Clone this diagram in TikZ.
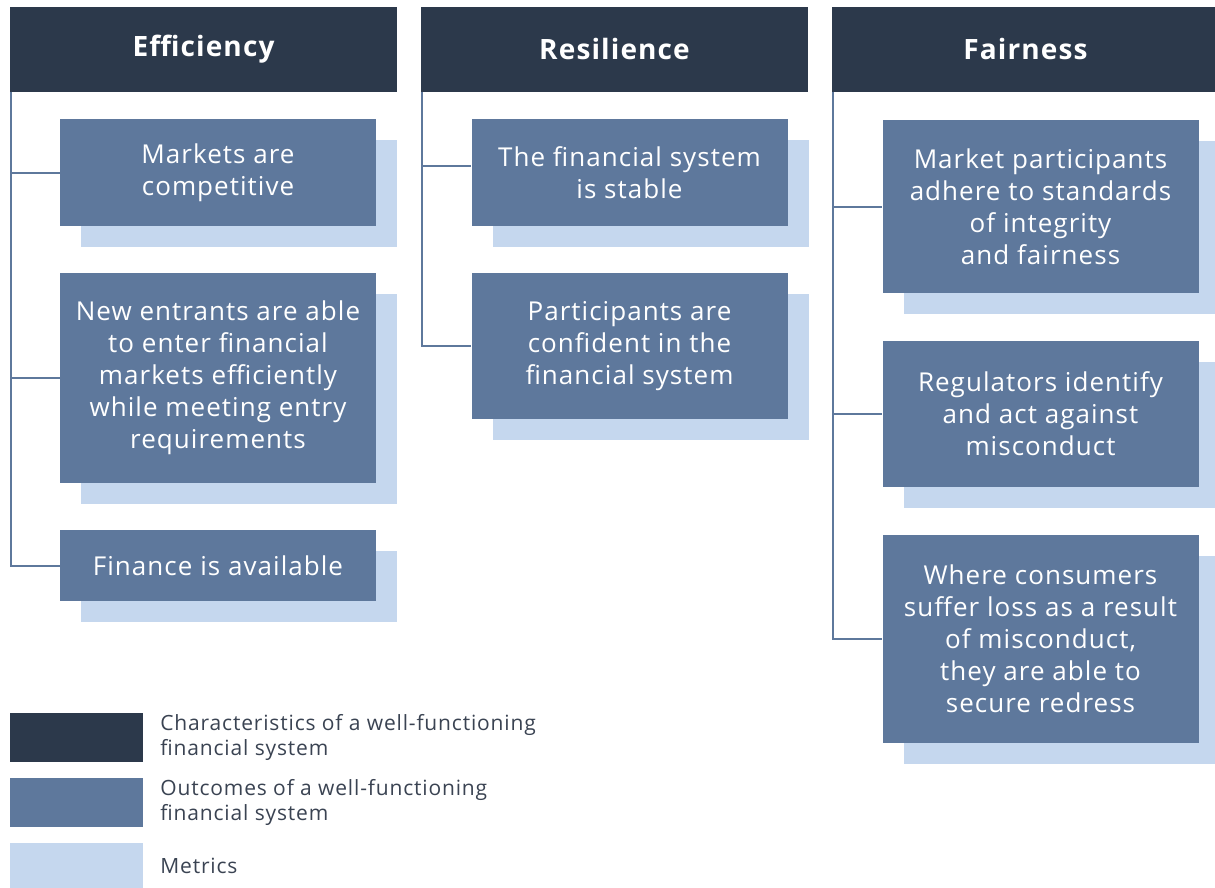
\documentclass[tikz,border=0pt]{standalone}
\usepackage{fontspec}
\setmainfont[LetterSpace=4]{Open Sans}
\definecolor{navy}{HTML}{2C394B}
\definecolor{steel}{HTML}{5E789C}
\definecolor{mist}{HTML}{C5D7EE}
\definecolor{ink}{HTML}{3A4352}

\begin{document}
\begin{tikzpicture}[x=0.5pt, y=-0.5pt,
    head/.style={fill=navy, text=white, font=\bfseries\fontsize{14}{17}\selectfont,
      minimum width=193.5pt, minimum height=42.5pt, inner sep=0pt},
    outcome/.style={fill=steel, text=white, font=\fontsize{13}{16}\selectfont,
      align=center, minimum width=158pt, inner sep=0pt},
    metric/.style={fill=mist, minimum width=158pt, inner sep=0pt},
    link/.style={steel, line width=1pt},
    key/.style={minimum width=66.5pt, minimum height=24.5pt, inner sep=0pt},
    keytext/.style={text=ink, font=\fontsize{10.5}{12.5}\selectfont, align=left,
      anchor=west, inner sep=0pt}]
                \useasboundingbox (0, 0) rectangle (1215, 888);

                % characteristics
                \node [head] (eff) at (203.5, 49.5) {Efficiency};
                \node [head] (res) at (614.5, 49.5) {Resilience};
                \node [head] (fair) at (1025.5, 49.5) {Fairness};

                % metrics behind the outcomes
                \node [metric, minimum height=53.5pt] (me1) at (239, 193.5) {};
                \node [metric, minimum height=105pt] (me2) at (239, 399) {};
                \node [metric, minimum height=35.5pt] (me3) at (239, 586.5) {};
                \node [metric, minimum height=53.5pt] (mr1) at (650.5, 193.5) {};
                \node [metric, minimum height=73pt] (mr2) at (650.5, 367) {};
                \node [metric, minimum height=86.5pt] (mf1) at (1061.5, 227.5) {};
                \node [metric, minimum height=73pt] (mf2) at (1061.5, 435) {};
                \node [metric, minimum height=104pt] (mf3) at (1061.5, 660) {};

                % outcomes
                \node [outcome, minimum height=53.5pt] (e1) at (218, 172.5)
                    {Markets are\\competitive};
                \node [outcome, minimum height=105pt] (e2) at (218, 378)
                    {New entrants are able\\to enter financial\\markets efficiently\\while meeting entry\\requirements};
                \node [outcome, minimum height=35.5pt] (e3) at (218, 565.5)
                    {Finance is available};
                \node [outcome, minimum height=53.5pt] (r1) at (629.5, 172.5)
                    {The financial system\\is stable};
                \node [outcome, minimum height=73pt] (r2) at (629.5, 346)
                    {Participants are\\confident in the\\financial system};
                \node [outcome, minimum height=86.5pt] (f1) at (1040.5, 206.5)
                    {Market participants\\adhere to standards\\of integrity\\and fairness};
                \node [outcome, minimum height=73pt] (f2) at (1040.5, 414)
                    {Regulators identify\\and act against\\misconduct};
                \node [outcome, minimum height=104pt] (f3) at (1040.5, 639)
                    {Where consumers\\suffer loss as a result\\of misconduct,\\they are able to\\secure redress};

                % links
                \draw [link] ([xshift=0.5pt]eff.south west) |- (e1.west);
                \draw [link] ([xshift=0.5pt]eff.south west) |- (e2.west);
                \draw [link] ([xshift=0.5pt]eff.south west) |- (e3.west);
                \draw [link] ([xshift=0.5pt]res.south west) |- ([yshift=3.5pt]r1.west);
                \draw [link] ([xshift=0.5pt]res.south west) |- (r2.west);
                \draw [link] ([xshift=0.5pt]fair.south west) |- (f1.west);
                \draw [link] ([xshift=0.5pt]fair.south west) |- (f2.west);
                \draw [link] ([xshift=0.5pt]fair.south west) |- (f3.west);

                % key
                \node [key, fill=navy] (k1) at (76.5, 737.5) {};
                \node [key, fill=steel] (k2) at (76.5, 802) {};
                \node [key, fill=mist] (k3) at (76.5, 867.5) {};
                \node [keytext] (t1) at (160, 737.5) {Characteristics of a well-functioning\\financial system};
                \node [keytext] (t2) at (160, 802) {Outcomes of a well-functioning\\financial system};
                \node [keytext] (t3) at (160, 866) {Metrics};
            \end{tikzpicture}
\end{document}
